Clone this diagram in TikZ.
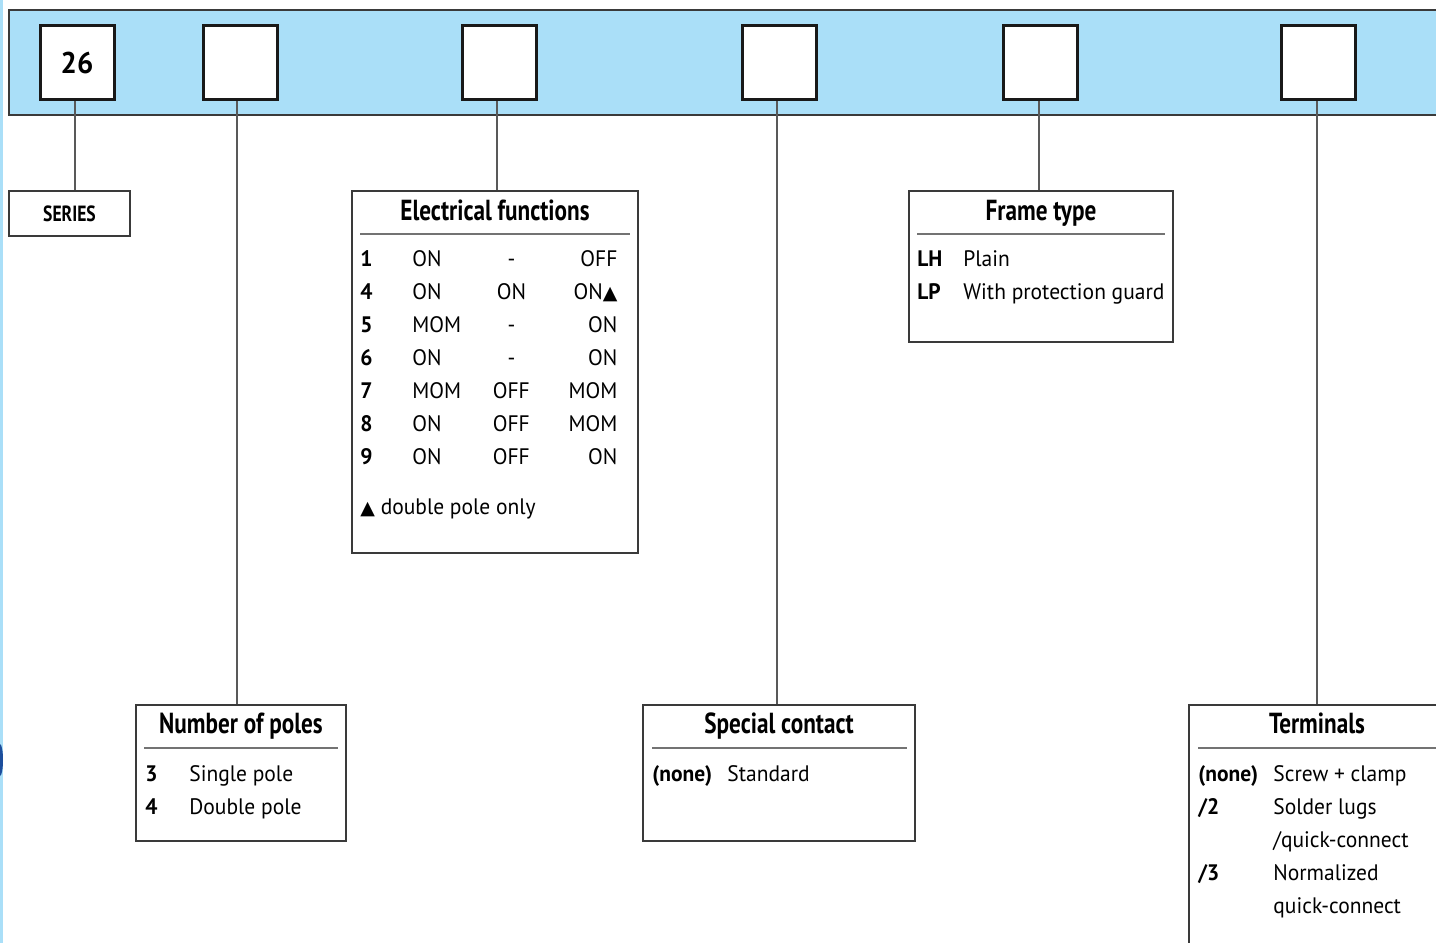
\documentclass[tikz,border=0pt]{standalone}
\usepackage{fontspec}
\usepackage{array}
\setmainfont{PT Sans}[FakeStretch=0.96]
\newfontfamily\headfont{PT Sans}[FakeStretch=0.8]
\newfontfamily\symfont{DejaVu Sans}
\newcommand{\tri}{{\symfont\fontsize{9.5}{9.5}\selectfont ▲}}

\definecolor{bandblue}{HTML}{AADFF8}
\definecolor{edgeblue}{HTML}{1C4E9C}
\definecolor{framegray}{HTML}{3A3A3A}

\begin{document}
\begin{tikzpicture}[x=0.5pt, y=-0.5pt,
    code/.style={draw=black!90, line width=1.5pt, fill=white, minimum size=37pt,
        inner sep=0pt, font=\bfseries\fontsize{15}{15}\selectfont},
    info/.style={draw=framegray, line width=0.6pt, fill=white, inner sep=0pt},
    title/.style={anchor=base, inner sep=0pt, font=\headfont\bfseries\fontsize{14.5}{14.5}\selectfont},
    body/.style={anchor=base west, inner sep=0pt, font=\fontsize{11.2}{16.5}\selectfont},
    rule/.style={draw=black!55, line width=0.6pt},
    wire/.style={draw=black!65, line width=0.6pt}]
    \useasboundingbox (0,0) rectangle (1436,943);

    % left page edge
    \fill[bandblue] (0,0) rectangle (3,943);
    \fill[edgeblue] (0,760) ellipse [x radius=3, y radius=16];

    % code band
    \filldraw[fill=bandblue, draw=framegray, line width=0.8pt] (1460,10) -- (9,10) -- (9,115) -- (1460,115);

    \node[code](c1)                 at (77,62.5)    {26};
    \node[code](c2)                 at (240.5,62.5) {};
    \node[code](c3)                 at (499,62.5)   {};
    \node[code](c4)                 at (779,62.5)   {};
    \node[code](c5)                 at (1040,62.5)  {};
    \node[code](c6)                 at (1318,62.5)  {};

    % info boxes
    \node[info, minimum width=60.5pt, minimum height=22.5pt,
        font=\headfont\bfseries\fontsize{11}{11}\selectfont](series) at (69.5,213.5) {SERIES};
    \node[info, minimum width=105pt, minimum height=68pt](poles)     at (241,773)   {};
    \node[info, minimum width=143pt, minimum height=181pt](efunc)    at (495,372)   {};
    \node[info, minimum width=136pt, minimum height=68pt](special)   at (779,773)   {};
    \node[info, minimum width=132pt, minimum height=75.5pt](frame)   at (1041,266.5) {};
    \node[info, minimum width=128.5pt, minimum height=160pt](terms)  at (1317.5,865) {};

    % connectors (a little left of the box middles)
    \draw[wire] ([xshift=-1pt]c1.south) -- ([xshift=-1pt]c1.south |- series.north);
    \draw[wire] ([xshift=-1.75pt]c2.south) -- ([xshift=-1.75pt]c2.south |- poles.north);
    \draw[wire] ([xshift=-1pt]c3.south) -- ([xshift=-1pt]c3.south |- efunc.north);
    \draw[wire] ([xshift=-1pt]c4.south) -- ([xshift=-1pt]c4.south |- special.north);
    \draw[wire] ([xshift=-0.5pt]c5.south) -- ([xshift=-0.5pt]c5.south |- frame.north);
    \draw[wire] ([xshift=-0.5pt]c6.south) -- ([xshift=-0.5pt]c6.south |- terms.north);

    % titles
    \node[title](efunc_t)           at (495,220)    {Electrical functions};
    \node[title](frame_t)           at (1041,220)   {Frame type};
    \node[title](poles_t)           at (241,733)    {Number of poles};
    \node[title](special_t)         at (779,733)    {Special contact};
    \node[title](terms_t)           at (1317,733)   {Terminals};
    \draw[rule] (360,234) -- (630,234);
    \draw[rule] (917,234) -- (1165,234);
    \draw[rule] (144,748) -- (338,748);
    \draw[rule] (652,748) -- (907,748);
    \draw[rule] (1198,748) -- (1446,748);

    % contents
    \node[body](efunc_b)            at (360,266) {%
        \begin{tabular}[t]{@{}>{\bfseries}p{26pt}@{}p{37pt}@{}>{\centering\arraybackslash}p{25pt}@{}>{\raggedleft\arraybackslash}p{40.5pt}@{}}
        1 & ON  & -   & OFF \\
        4 & ON  & ON  & ON\tri \\
        5 & MOM & -   & ON \\
        6 & ON  & -   & ON \\
        7 & MOM & OFF & MOM \\
        8 & ON  & OFF & MOM \\
        9 & ON  & OFF & ON
        \end{tabular}};
    \node[body](efunc_n)            at (360,514) {\tri\ double pole only};
    \node[body](frame_b)            at (917,266) {%
        \begin{tabular}[t]{@{}>{\bfseries}p{23pt}@{}l@{}}
        LH & Plain \\
        LP & With protection guard
        \end{tabular}};
    \node[body](poles_b)            at (145,781) {%
        \begin{tabular}[t]{@{}>{\bfseries}p{22pt}@{}l@{}}
        3 & Single pole \\
        4 & Double pole
        \end{tabular}};
    \node[body](special_b)          at (652,781) {%
        \begin{tabular}[t]{@{}>{\bfseries}p{37.5pt}@{}l@{}}
        (none) & Standard
        \end{tabular}};
    \node[body](terms_b)            at (1198,781) {%
        \begin{tabular}[t]{@{}>{\bfseries}p{37.5pt}@{}l@{}}
        (none) & Screw + clamp \\
        /2     & Solder lugs \\
               & /quick-connect \\
        /3     & Normalized \\
               & quick-connect
        \end{tabular}};
\end{tikzpicture}
\end{document}
